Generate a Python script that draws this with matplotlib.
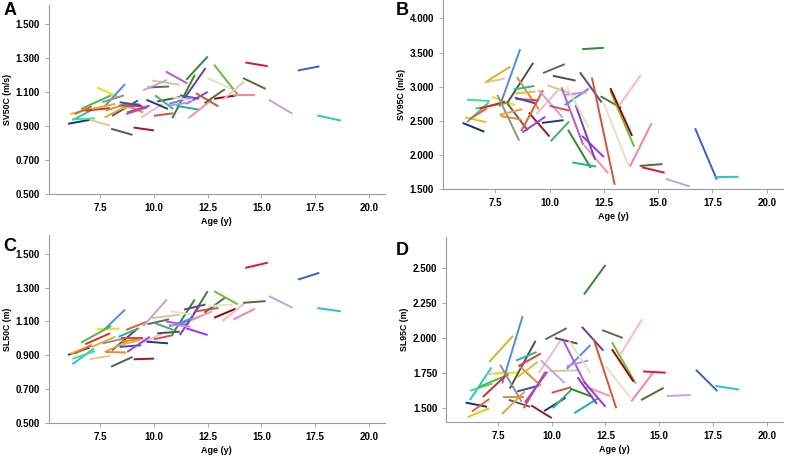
import matplotlib.pyplot as plt

plt.rcParams['font.family'] = ['Liberation Sans', 'DejaVu Sans']

# one entry per child: colour, age at visit 1 and 2, then the two values of each measure
colors = ['#16307a', '#e6c619', '#26c6d0', '#3fe08a', '#ee5a30', '#d8cc98', '#5a5a5a', '#a8141e',
          '#e8e010', '#4a90e2', '#4cbb3c', '#e02828', '#e0b020', '#505050', '#909090', '#f0a030',
          '#e88a2a', '#e8883a', '#1abc9c', '#d9c032', '#e84040', '#2f4fbf', '#f7b8c8', '#e85a2a',
          '#a040f0', '#1a3a8a', '#666666', '#4d4d4d', '#3cb371', '#d8c890', '#c8a0e0', '#e84848',
          '#2e8b2e', '#2a8a2a', '#17b3a0', '#ff8fa8', '#ba55d3', '#6a3d9a', '#9b30ff', '#7b3fb5',
          '#4f8ff0', '#cc88ee', '#e6e0c4', '#d9542a', '#5a6e4a', '#e6e0c4', '#66c030', '#a00000',
          '#ffb6c1', '#ff7fa0', '#556b2f', '#dc143c', '#c9a0dc', '#3a5fcd', '#26c6c6']
age1 = [6.0, 6.1, 6.2, 6.2, 6.3, 7.0, 8.0, 9.05, 7.35, 7.7, 6.6, 6.8, 7.1, 8.05, 7.6, 7.7,
        7.75, 8.5, 8.35, 8.4, 8.45, 8.4, 9.4, 8.7, 8.75, 9.65, 9.7, 10.15, 10.05, 9.9, 9.5, 10.0,
        11.5, 10.85, 11.05, 11.6, 10.55, 11.4, 11.5, 11.2, 10.7, 10.7, 10.8, 11.95, 12.35, 12.5,
        12.8, 12.8, 13.2, 13.7, 14.15, 14.25, 15.35, 16.7, 17.6]
age2 = [7.0, 7.1, 7.2, 7.25, 7.1, 7.95, 9.0, 10.0, 8.4, 8.65, 8.0, 7.95, 8.2, 9.25, 8.6, 8.75,
        8.7, 9.5, 9.3, 9.35, 9.5, 9.4, 10.4, 9.7, 9.8, 10.65, 10.7, 11.2, 10.9, 11.2, 10.6, 10.9,
        12.5, 11.9, 12.15, 12.7, 11.55, 12.4, 12.5, 12.1, 11.8, 11.7, 11.8, 13.0, 13.3, 13.65,
        13.9, 13.8, 14.2, 14.7, 15.2, 15.3, 16.45, 17.7, 18.7]

sv50_1 = [0.913, 0.97, 0.935, 0.94, 0.97, 0.936, 0.884, 0.891, 1.126, 1.015, 1.0, 0.99, 1.0, 0.96,
          1.04, 0.95, 0.99, 1.03, 1.02, 1.0, 1.02, 1.04, 0.95, 0.97, 0.98, 1.054, 1.126, 1.044,
          1.08, 1.167, 1.11, 0.96, 1.171, 0.946, 1.018, 0.946, 1.22, 1.06, 1.03, 1.08, 1.03, 1.02,
          1.07, 1.093, 1.034, 1.181, 1.26, 1.06, 1.054, 1.081, 1.181, 1.273, 1.054, 1.226, 0.962]
sv50_2 = [0.936, 1.0, 1.0, 0.945, 1.015, 0.903, 0.848, 0.874, 1.067, 1.146, 1.08, 1.005, 1.03, 1.05,
          1.08, 1.02, 1.03, 0.98, 1.03, 1.03, 1.015, 1.02, 1.03, 1.01, 1.02, 1.0, 1.132, 1.07,
          1.0, 1.142, 1.17, 0.975, 1.308, 1.2, 0.995, 1.054, 1.15, 1.24, 1.1, 1.06, 1.07, 1.04,
          1.05, 1.015, 1.116, 1.116, 1.083, 1.079, 1.161, 1.081, 1.118, 1.251, 0.972, 1.25, 0.932]

sv95_1 = [2.47, 2.55, 2.48, 2.81, 2.52, 3.06, 2.78, 2.62, 2.85, 2.71, 2.68, 2.68, 3.075, 2.76,
          2.88, 2.59, 2.57, 3.14, 2.96, 2.9, 2.82, 2.84, 2.6, 2.35, 2.33, 2.47, 3.2, 3.16,
          2.2, 3.02, 2.95, 2.72, 3.55, 2.37, 1.89, 2.14, 2.99, 3.21, 2.28, 2.73, 2.73, 2.88,
          3.0, 3.134, 2.86, 2.76, 2.94, 2.98, 2.72, 1.83, 1.84, 1.82, 1.65, 2.39, 1.676]
sv95_2 = [2.34, 2.48, 2.77, 2.79, 2.68, 3.12, 2.36, 2.27, 2.73, 3.55, 2.76, 2.78, 3.295, 3.35,
          2.21, 2.67, 2.52, 2.67, 3.01, 2.93, 2.8, 2.75, 2.95, 2.95, 2.56, 2.51, 3.33, 3.09,
          2.49, 2.88, 2.55, 2.65, 3.57, 1.81, 1.83, 1.734, 2.15, 2.77, 1.97, 1.93, 2.97, 2.92,
          2.4, 1.563, 2.69, 1.83, 2.12, 2.28, 3.17, 2.466, 1.866, 1.74, 1.54, 1.64, 1.68]

sl50_1 = [0.903, 0.91, 0.848, 0.88, 0.91, 0.878, 0.833, 0.877, 1.054, 1.054, 0.975, 0.966, 0.95,
          0.93, 0.97, 0.92, 0.92, 0.98, 1.01, 0.96, 1.0, 0.95, 0.97, 1.05, 0.92, 0.981, 1.084,
          1.03, 1.09, 1.12, 1.073, 0.995, 1.073, 1.024, 1.08, 1.1, 1.1, 1.17, 1.06, 1.02, 1.07,
          1.08, 1.16, 1.16, 1.152, 1.19, 1.279, 1.122, 1.103, 1.112, 1.21, 1.416, 1.25, 1.347, 1.179]
sl50_2 = [0.946, 0.96, 0.94, 0.925, 0.96, 0.897, 0.891, 0.881, 1.058, 1.17, 1.073, 1.03, 1.01,
          1.06, 1.0, 0.98, 0.917, 1.0, 1.06, 0.99, 1.0, 0.96, 1.03, 1.1, 1.01, 0.971, 1.113,
          1.04, 1.05, 1.14, 1.23, 1.02, 1.279, 1.23, 1.13, 1.16, 1.08, 1.2, 1.02, 1.19, 1.12,
          1.07, 1.14, 1.18, 1.24, 1.2, 1.201, 1.175, 1.206, 1.175, 1.22, 1.447, 1.181, 1.387, 1.16]

sl95_1 = [1.54, 1.437, 1.558, 1.624, 1.477, 1.74, 1.56, 1.52, 1.745, 1.676, 1.65, 1.58, 1.83, 1.64,
          1.81, 1.46, 1.58, 1.8, 1.84, 1.72, 1.8, 1.62, 1.75, 1.5, 1.54, 1.48, 1.99, 2.0,
          1.5, 1.765, 1.84, 1.61, 2.31, 1.64, 1.465, 1.652, 1.98, 2.08, 1.69, 1.72, 1.78, 1.8,
          1.98, 1.992, 2.056, 1.8, 1.97, 1.92, 1.886, 1.55, 1.558, 1.762, 1.587, 1.774, 1.659]
sl95_2 = [1.51, 1.5, 1.79, 1.675, 1.566, 1.76, 1.51, 1.43, 1.755, 2.156, 1.74, 1.745, 2.015, 1.98,
          1.547, 1.62, 1.58, 1.66, 1.9, 1.83, 1.89, 1.66, 1.98, 1.76, 1.76, 1.575, 2.07, 1.96,
          1.63, 1.77, 1.68, 1.65, 2.52, 1.58, 1.57, 1.587, 1.676, 1.91, 1.51, 1.53, 1.95, 1.84,
          1.75, 1.5, 2.0, 1.577, 1.676, 1.69, 2.132, 1.75, 1.645, 1.753, 1.594, 1.622, 1.633]

panels = [
    ('A', 'SV50C (m/s)', sv50_1, sv50_2, (0.5, 1.61), [0.5, 0.7, 0.9, 1.1, 1.3, 1.5]),
    ('B', 'SV95C (m/s)', sv95_1, sv95_2, (1.5, 4.27), [1.5, 2.0, 2.5, 3.0, 3.5, 4.0]),
    ('C', 'SL50C (m)', sl50_1, sl50_2, (0.5, 1.61), [0.5, 0.7, 0.9, 1.1, 1.3, 1.5]),
    ('D', 'SL95C (m)', sl95_1, sl95_2, (1.40, 2.72), [1.5, 1.75, 2.0, 2.25, 2.5]),
]
rects = [[0.062, 0.577, 0.427, 0.412], [0.563, 0.588, 0.432, 0.412],
         [0.062, 0.078, 0.427, 0.410], [0.567, 0.080, 0.428, 0.404]]
letter_pos = [(0.004, 0.995), (0.503, 0.995), (0.004, 0.482), (0.503, 0.472)]
age_ticks = [7.5, 10.0, 12.5, 15.0, 17.5, 20.0]

fig = plt.figure(figsize=(7.87, 4.59), dpi=100)

for (letter, ylabel, v1, v2, ylim, yticks), rect, lp in zip(panels, rects, letter_pos):
    ax = fig.add_axes(rect)
    for c, a1, a2, y1, y2 in zip(colors, age1, age2, v1, v2):
        ax.plot([a1, a2], [y1, y2], color=c, lw=1.4, solid_capstyle='butt')
    ax.set_xlim(5.1, 20.75)
    ax.set_ylim(*ylim)
    ax.set_xticks(age_ticks)
    ax.set_xticklabels([f'{t:.1f}' for t in age_ticks])
    ax.set_yticks(yticks)
    ax.set_yticklabels([f'{t:.3f}' for t in yticks])
    for s in ['top', 'right']:
        ax.spines[s].set_visible(False)
    for s in ['left', 'bottom']:
        ax.spines[s].set_color('#9a9a9a')
        ax.spines[s].set_linewidth(0.8)
    ax.tick_params(axis='both', colors='#9a9a9a', length=3, width=0.6, labelsize=7, pad=3.5)
    for lab in ax.get_xticklabels() + ax.get_yticklabels():
        lab.set_color('black')
        lab.set_fontweight('bold')
    ax.set_xlabel('Age (y)', fontsize=6.5, fontweight='bold', labelpad=3)
    ax.set_ylabel(ylabel, fontsize=6.3, fontweight='bold', labelpad=2.5)
    fig.text(lp[0], lp[1], letter, fontsize=13, fontweight='bold', va='top', ha='left')

fig.savefig('out.png', dpi=100)
